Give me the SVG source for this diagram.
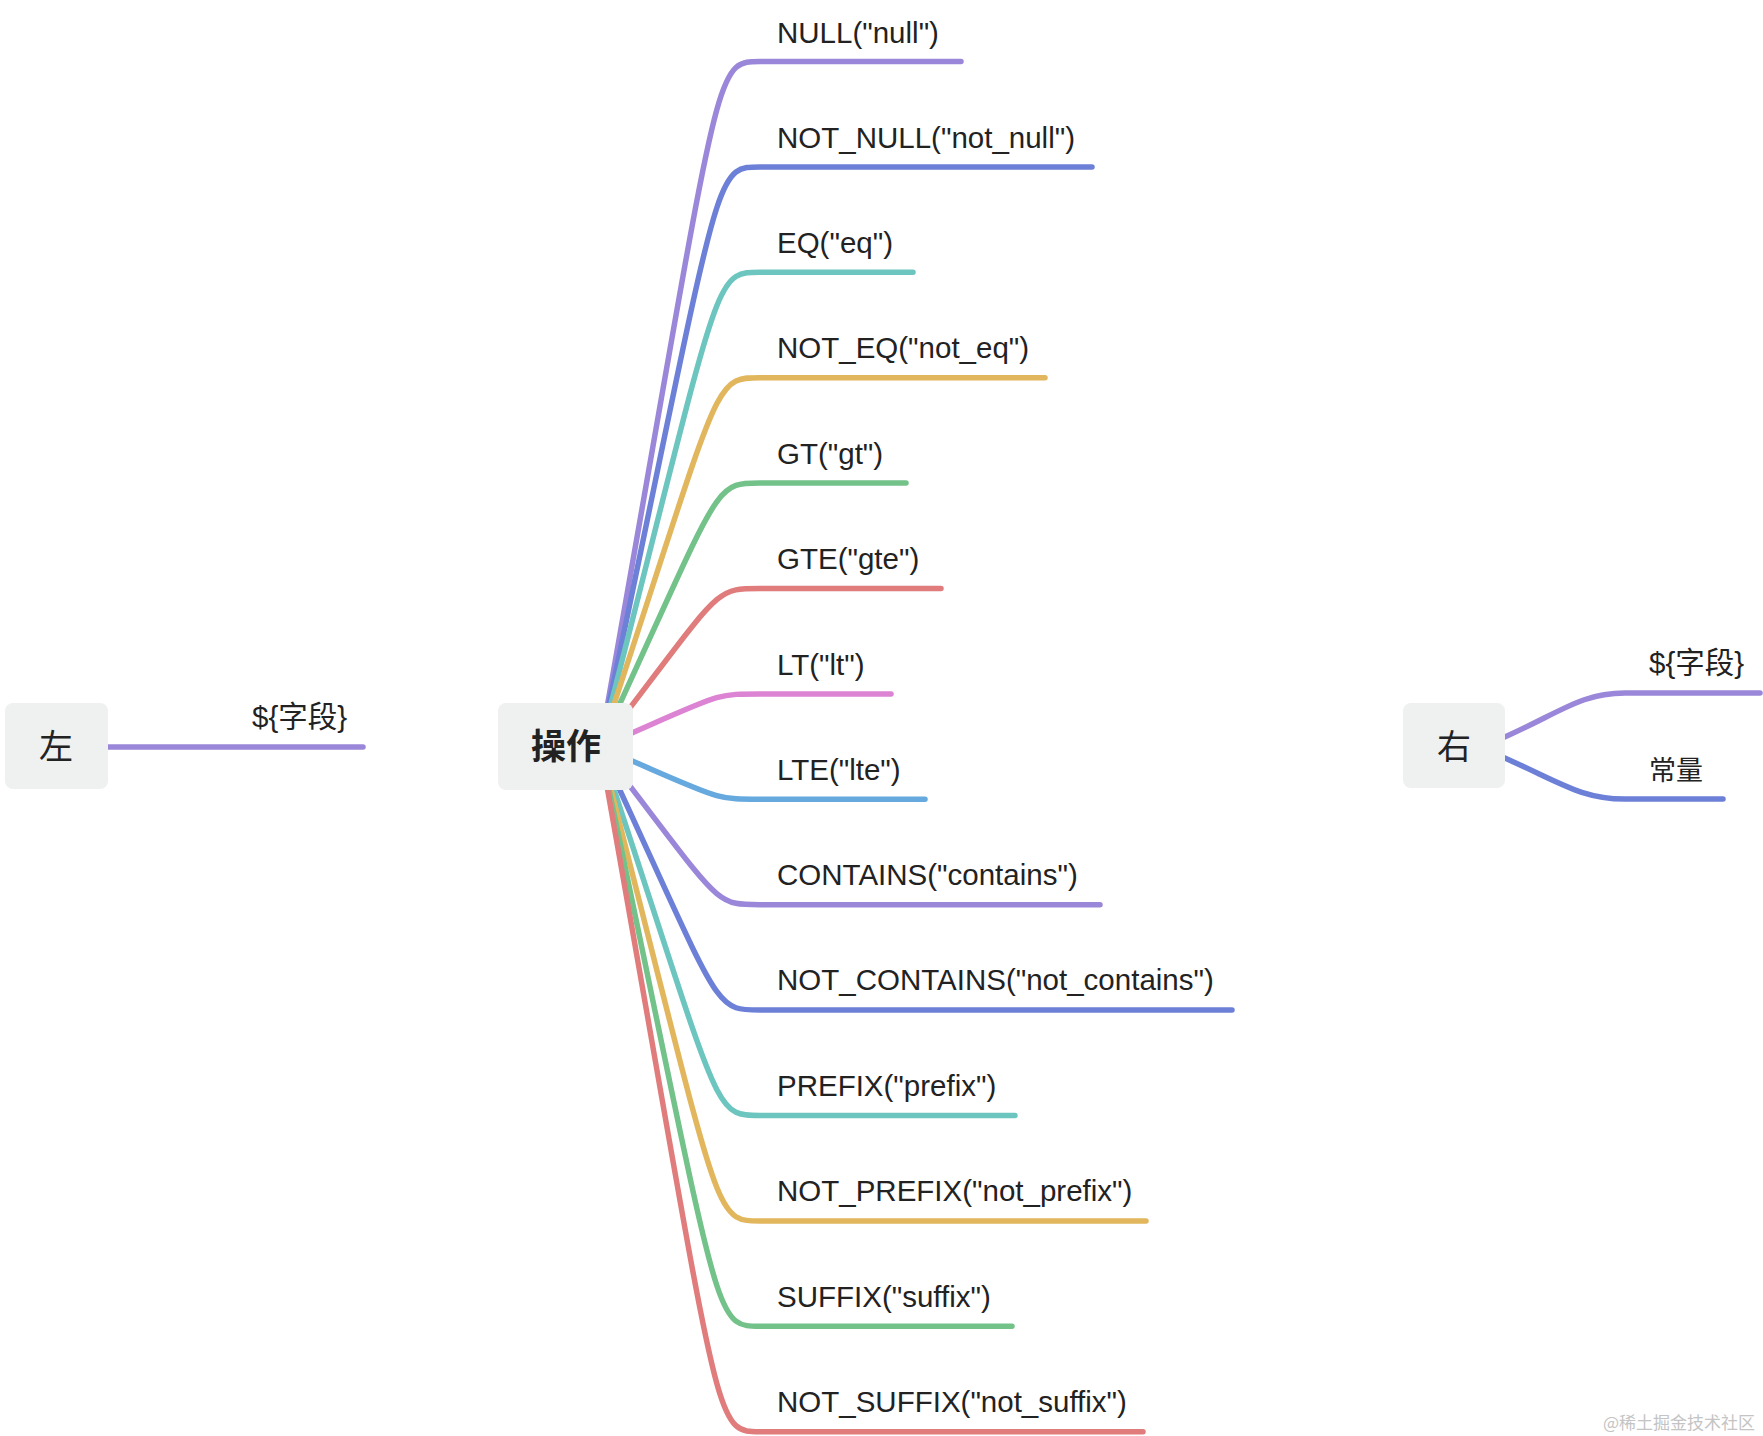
<svg xmlns="http://www.w3.org/2000/svg" width="1763" height="1436" viewBox="0 0 1763 1436">
<style>
.c{fill:none;stroke-width:5.5;stroke-linecap:round;stroke-linejoin:round}
.box{fill:#eff0f0}
.t{font-family:"Liberation Sans","Noto Sans CJK SC",sans-serif;font-size:29.5px;fill:#222}
.cjk{font-family:"Noto Sans CJK SC","Liberation Sans",sans-serif;fill:#222}
.purple{stroke:#9b87d9}.blue{stroke:#6d80d8}.teal{stroke:#6cc6bf}.yellow{stroke:#e2b65c}
.green{stroke:#72c28a}.red{stroke:#e07c7c}.pink{stroke:#dc83d3}.lblue{stroke:#65a9df}
</style>
<rect width="1763" height="1436" fill="#fff"/>
<g id="connectors">
<path class="c purple" d="M100 747 L363 747"/>
<path class="c purple" d="M1498 740 C1560 713 1580 693 1625 693 L1760 693"/>
<path class="c blue" d="M1498 755 C1560 782 1580 799 1625 799 L1723 799"/>
<path class="c purple" d="M600 747 C722 61.5 712 61.5 760 61.5 L961 61.5"/>
<path class="c blue" d="M600 747 C722 166.9 712 166.9 760 166.9 L1092 166.9"/>
<path class="c teal" d="M600 747 C722 272.3 712 272.3 760 272.3 L913 272.3"/>
<path class="c yellow" d="M600 747 C722 377.7 712 377.7 760 377.7 L1045 377.7"/>
<path class="c green" d="M600 747 C722 483.1 712 483.1 760 483.1 L906 483.1"/>
<path class="c red" d="M600 747 C722 588.5 712 588.5 760 588.5 L941 588.5"/>
<path class="c pink" d="M600 747 C722 693.9 712 693.9 760 693.9 L891 693.9"/>
<path class="c lblue" d="M600 747 C722 799.3 712 799.3 760 799.3 L925 799.3"/>
<path class="c purple" d="M600 747 C722 904.7 712 904.7 760 904.7 L1100 904.7"/>
<path class="c blue" d="M600 747 C722 1010.1 712 1010.1 760 1010.1 L1232 1010.1"/>
<path class="c teal" d="M600 747 C722 1115.5 712 1115.5 760 1115.5 L1015 1115.5"/>
<path class="c yellow" d="M600 747 C722 1220.9 712 1220.9 760 1220.9 L1146 1220.9"/>
<path class="c green" d="M600 747 C722 1326.3 712 1326.3 760 1326.3 L1012 1326.3"/>
<path class="c red" d="M600 747 C722 1431.7 712 1431.7 760 1431.7 L1143 1431.7"/>
</g>
<g id="node-left">
<rect class="box" x="5" y="703" width="103" height="86" rx="8"/>
<text class="cjk" x="56" y="759" font-size="34" text-anchor="middle">左</text>
</g>
<g id="node-left-field"><text class="t" x="252" y="727">${字段}</text></g>
<g id="node-op">
<rect class="box" x="498" y="703" width="135" height="87" rx="8"/>
<text class="cjk" x="566" y="759" font-size="35" font-weight="bold" text-anchor="middle">操作</text>
</g>
<g id="node-right">
<rect class="box" x="1403" y="703" width="102" height="85" rx="8"/>
<text class="cjk" x="1454" y="759" font-size="34" text-anchor="middle">右</text>
</g>
<g id="node-right-field"><text class="t" x="1649" y="673">${字段}</text></g>
<g id="node-right-const"><text class="cjk" x="1649" y="780" font-size="27">常量</text></g>
<g id="op-null"><text class="t" x="777" y="43">NULL("null")</text></g>
<g id="op-not-null"><text class="t" x="777" y="148">NOT_NULL("not_null")</text></g>
<g id="op-eq"><text class="t" x="777" y="253">EQ("eq")</text></g>
<g id="op-not-eq"><text class="t" x="777" y="358">NOT_EQ("not_eq")</text></g>
<g id="op-gt"><text class="t" x="777" y="464">GT("gt")</text></g>
<g id="op-gte"><text class="t" x="777" y="569">GTE("gte")</text></g>
<g id="op-lt"><text class="t" x="777" y="675">LT("lt")</text></g>
<g id="op-lte"><text class="t" x="777" y="780">LTE("lte")</text></g>
<g id="op-contains"><text class="t" x="777" y="885">CONTAINS("contains")</text></g>
<g id="op-not-contains"><text class="t" x="777" y="990">NOT_CONTAINS("not_contains")</text></g>
<g id="op-prefix"><text class="t" x="777" y="1096">PREFIX("prefix")</text></g>
<g id="op-not-prefix"><text class="t" x="777" y="1201">NOT_PREFIX("not_prefix")</text></g>
<g id="op-suffix"><text class="t" x="777" y="1307">SUFFIX("suffix")</text></g>
<g id="op-not-suffix"><text class="t" x="777" y="1412">NOT_SUFFIX("not_suffix")</text></g>
<text x="1755" y="1429" font-family="Noto Sans CJK SC,sans-serif" font-size="17" fill="#c4c4c4" text-anchor="end">@稀土掘金技术社区</text>
</svg>
